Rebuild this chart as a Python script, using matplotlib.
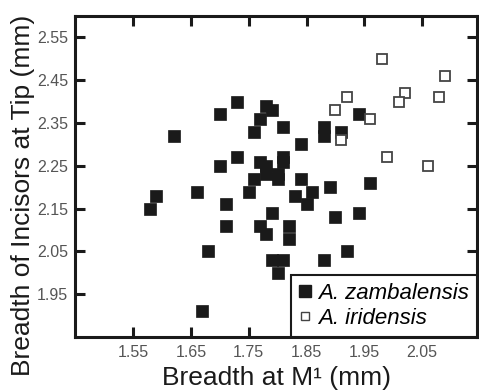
import matplotlib.pyplot as plt
from matplotlib.lines import Line2D

# A. zambalensis (filled squares)
zam_x = [1.58, 1.59, 1.62, 1.66, 1.68, 1.67, 1.70, 1.70, 1.71, 1.71,
         1.73, 1.73, 1.75, 1.76, 1.76, 1.77, 1.78, 1.79, 1.77, 1.78,
         1.78, 1.77, 1.78, 1.79, 1.79, 1.80, 1.80, 1.80, 1.81, 1.81,
         1.81, 1.81, 1.82, 1.82, 1.83, 1.84, 1.84, 1.85, 1.86, 1.88,
         1.88, 1.88, 1.89, 1.90, 1.91, 1.92, 1.94, 1.94, 1.96]
zam_y = [2.15, 2.18, 2.32, 2.19, 2.05, 1.91, 2.37, 2.25, 2.16, 2.11,
         2.40, 2.27, 2.19, 2.33, 2.22, 2.36, 2.39, 2.38, 2.26, 2.25,
         2.23, 2.11, 2.09, 2.14, 2.03, 2.00, 2.23, 2.22, 2.34, 2.27,
         2.26, 2.03, 2.11, 2.08, 2.18, 2.30, 2.22, 2.16, 2.19, 2.34,
         2.32, 2.03, 2.20, 2.13, 2.33, 2.05, 2.14, 2.37, 2.21]

# A. iridensis (open squares)
iri_x = [1.98, 2.09, 2.02, 2.01, 2.08, 1.92, 1.90, 1.96, 1.91, 1.99, 2.06]
iri_y = [2.50, 2.46, 2.42, 2.40, 2.41, 2.41, 2.38, 2.36, 2.31, 2.27, 2.25]

xticks = [1.55, 1.65, 1.75, 1.85, 1.95, 2.05]
yticks = [1.95, 2.05, 2.15, 2.25, 2.35, 2.45, 2.55]

plt.rcParams['font.family'] = ['Liberation Sans', 'DejaVu Sans']

fig = plt.figure(figsize=(4.79, 3.91), dpi=100)
ax = fig.add_axes([0.157, 0.138, 0.839, 0.821])

ax.plot(zam_x, zam_y, 's', ms=8, mfc='#1a1a1a', mec='#1a1a1a', mew=0.5,
        linestyle='none', zorder=3)
ax.plot(iri_x, iri_y, 's', ms=7.5, mfc='white', mec='#444444', mew=1.3,
        linestyle='none', zorder=4)

ax.set_xlim(1.45, 2.145)
ax.set_ylim(1.85, 2.60)
ax.set_xticks(xticks)
ax.set_yticks(yticks)
ax.set_xticklabels(['%.2f' % v for v in xticks])
ax.set_yticklabels(['%.2f' % v for v in yticks])

ax.tick_params(direction='in', length=7, width=2.2, top=True, right=True,
               labelsize=11.5, labelcolor='#555555', color='#1a1a1a')
ax.tick_params(axis='x', pad=6)
ax.tick_params(axis='y', pad=5)
for s in ax.spines.values():
    s.set_linewidth(2.2)
    s.set_color('#1a1a1a')

ax.set_xlabel('Breadth at M\u00b9 (mm)', fontsize=19, color='#1a1a1a',
              va='baseline')
ax.set_ylabel('Breadth of Incisors at Tip (mm)', fontsize=19, color='#1a1a1a')
ax.xaxis.set_label_coords(0.5, -0.150)
ax.yaxis.set_label_coords(-0.10, 0.44)

handles = [
    Line2D([], [], marker='s', ms=8, mfc='#1a1a1a', mec='#1a1a1a', ls='none'),
    Line2D([], [], marker='s', ms=6, mfc='white', mec='#444444', mew=1.0, ls='none'),
]
leg = ax.legend(handles, ['A. zambalensis', 'A. iridensis'], loc='lower right',
                borderaxespad=0, fancybox=False, framealpha=1,
                prop={'style': 'italic', 'size': 16}, handlelength=0.6,
                handletextpad=0.3, borderpad=0.35, labelspacing=0.2)
leg.get_frame().set_edgecolor('#1a1a1a')
leg.get_frame().set_linewidth(1.5)
leg.set_zorder(5)

fig.savefig('out.png', dpi=100)
